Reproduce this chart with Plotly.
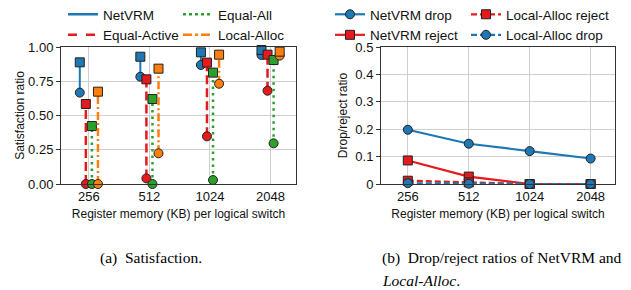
import plotly.graph_objects as go

# ---------------- data ----------------
categories = ["256", "512", "1024", "2048"]

# (a) satisfaction: square = upper marker, circle = lower marker
netvrm_sq = [0.888, 0.929, 0.961, 0.978]
netvrm_ci = [0.667, 0.783, 0.869, 0.942]
eqact_sq = [0.584, 0.764, 0.886, 0.944]
eqact_ci = [0.0, 0.041, 0.348, 0.681]
eqall_sq = [0.423, 0.620, 0.813, 0.905]
eqall_ci = [0.0, 0.0, 0.029, 0.297]
local_sq = [0.674, 0.842, 0.944, 0.966]
local_ci = [0.0, 0.224, 0.732, 0.937]

# (b) drop / reject ratios
netvrm_drop = [0.198, 0.147, 0.120, 0.093]
netvrm_reject = [0.086, 0.027, 0.0, 0.0]
local_reject = [0.012, 0.006, 0.0, 0.0]
local_drop = [0.003, 0.001, 0.0, 0.0]

# ---------------- style ----------------
# the page body has an 8 px margin, so the figure is drawn 8 px in from the window corner
OFF = 8
W, H = 631 - OFF, 290 - OFF
BLUE, RED, GREEN, ORANGE = "#1f77b4", "#e41a1c", "#2ca02c", "#ff7f0e"
EDGE = "#222222"
FONT = "Liberation Sans"
SERIF = "Liberation Serif"
FS_TICK = 13
FS_TITLE = 12
FS_LEG = 13.5
FS_CAP = 15.5


def px_x(p):  # window pixel -> paper fraction
    return (p - OFF) / W


def px_y(p):
    return 1 - (p - OFF) / H


idx = list(range(len(categories)))

fig = go.Figure()

left_series = [
    ("NetVRM", netvrm_sq, netvrm_ci, BLUE, "solid", -0.15, 2.0),
    ("Equal-Active", eqact_sq, eqact_ci, RED, "9px,4px", -0.05, 2.5),
    ("Equal-All", eqall_sq, eqall_ci, GREEN, "2.5px,4px", 0.05, 2.5),
    ("Local-Alloc", local_sq, local_ci, ORANGE, "8px,3px,2px,3px", 0.15, 2.5),
]

for name, sq, ci, col, dash, off, lw in left_series:
    xs, ys = [], []
    for i, a, b in zip(idx, ci, sq):
        xs += [i + off, i + off, None]
        ys += [a, b, None]
    fig.add_trace(go.Scatter(x=xs, y=ys, mode="lines", line=dict(color=col, width=lw, dash=dash),
                             showlegend=False, xaxis="x", yaxis="y", cliponaxis=False, hoverinfo="skip"))
    fig.add_trace(go.Scatter(x=[i + off for i in idx], y=ci, mode="markers",
                             marker=dict(symbol="circle", size=9, color=col, line=dict(color=EDGE, width=1)),
                             showlegend=False, xaxis="x", yaxis="y", cliponaxis=False))
    fig.add_trace(go.Scatter(x=[i + off for i in idx], y=sq, mode="markers",
                             marker=dict(symbol="square", size=9, color=col, line=dict(color=EDGE, width=1)),
                             showlegend=False, xaxis="x", yaxis="y", cliponaxis=False))

# legend-only entries for (a): one vertical legend per column
leg_a = [("NetVRM", BLUE, "solid", "legend"), ("Equal-Active", RED, "dash", "legend"),
         ("Equal-All", GREEN, "dot", "legend2"), ("Local-Alloc", ORANGE, "dashdot", "legend2")]
for name, col, dash, lg in leg_a:
    fig.add_trace(go.Scatter(x=[None], y=[None], mode="lines", name=name,
                             line=dict(color=col, width=2.5, dash=dash), legend=lg,
                             xaxis="x", yaxis="y"))

# (b)
right_series = [
    ("NetVRM drop", netvrm_drop, BLUE, "solid", "circle", "legend3", 1),
    ("NetVRM reject", netvrm_reject, RED, "solid", "square", "legend3", 2),
    ("Local-Alloc reject", local_reject, RED, "6px,3px", "square", "legend4", 1),
    ("Local-Alloc drop", local_drop, BLUE, "6px,3px", "circle", "legend4", 2),
]
for name, vals, col, dash, sym, lg, rank in right_series:
    fig.add_trace(go.Scatter(x=idx, y=vals, mode="lines+markers", name=name,
                             line=dict(color=col, width=2.2, dash=dash),
                             marker=dict(symbol=sym, size=9, color=col, line=dict(color=EDGE, width=1)),
                             legend=lg, legendrank=rank, xaxis="x2", yaxis="y2", cliponaxis=False))

# ---------------- layout ----------------
ydom = [px_y(184), px_y(47)]
axis_common = dict(showline=True, linecolor="#333333", linewidth=1, mirror=True, automargin=False,
                   showgrid=True, gridcolor="#cfcfcf", gridwidth=1.2, zeroline=False,
                   tickfont=dict(family=FONT, size=FS_TICK, color="#111111"))

fig.update_layout(
    width=W, height=H,
    margin=dict(l=0, r=0, t=0, b=0, autoexpand=False),
    paper_bgcolor="white", plot_bgcolor="white",
    font=dict(family=FONT, size=FS_TICK, color="#111111"),
    xaxis=dict(domain=[px_x(61), px_x(296)], range=[-0.46, 3.42],
               tickvals=idx, ticktext=categories, ticks="",
               title=dict(text="Register memory (KB) per logical switch", font=dict(size=FS_TITLE), standoff=7),
               anchor="y", **axis_common),
    yaxis=dict(domain=ydom, range=[0, 1], tickvals=[0, 0.25, 0.5, 0.75, 1.0],
               ticktext=["0.00", "0.25", "0.50", "0.75", "1.00"], ticks="outside", ticklen=4,
               tickcolor="#333333",
               title=dict(text="Satisfaction ratio", font=dict(size=FS_TITLE), standoff=0),
               anchor="x", **axis_common),
    xaxis2=dict(domain=[px_x(381), px_x(615)], range=[-0.44, 3.40],
                tickvals=idx, ticktext=categories, ticks="",
                title=dict(text="Register memory (KB) per logical switch", font=dict(size=FS_TITLE), standoff=7),
                anchor="y2", **axis_common),
    yaxis2=dict(domain=ydom, range=[0, 0.5], tickvals=[0, 0.1, 0.2, 0.3, 0.4, 0.5],
                ticktext=["0", "0.1", "0.2", "0.3", "0.4", "0.5"], ticks="outside", ticklen=4,
                tickcolor="#333333",
                title=dict(text="Drop/reject ratio", font=dict(size=FS_TITLE), standoff=5),
                anchor="x2", **axis_common),
)

leg_common = dict(orientation="v", xanchor="left", yanchor="top", bgcolor="rgba(0,0,0,0)",
                  font=dict(family=FONT, size=FS_LEG, color="#111111"), itemwidth=30,
                  traceorder="normal", tracegroupgap=0)
LEG_TOP = -1
fig.update_layout(
    legend=dict(x=px_x(63), y=px_y(LEG_TOP), **leg_common),
    legend2=dict(x=px_x(178), y=px_y(LEG_TOP), **leg_common),
    legend3=dict(x=px_x(330), y=px_y(LEG_TOP), **leg_common),
    legend4=dict(x=px_x(466), y=px_y(LEG_TOP), **leg_common),
)

# captions
fig.add_annotation(text="(a)\u00a0\u00a0Satisfaction.", x=px_x(151), y=px_y(258), xref="paper", yref="paper",
                   showarrow=False, xanchor="center", yanchor="middle",
                   font=dict(family=SERIF, size=FS_CAP, color="#000000"))
fig.add_annotation(text="(b)\u00a0\u00a0Drop/reject ratios of NetVRM and", x=px_x(380), y=px_y(258),
                   xref="paper", yref="paper", showarrow=False, xanchor="left", yanchor="middle",
                   font=dict(family=SERIF, size=FS_CAP, color="#000000"))
fig.add_annotation(text="<i>Local-Alloc</i>.", x=px_x(380), y=px_y(280),
                   xref="paper", yref="paper", showarrow=False, xanchor="left", yanchor="middle",
                   font=dict(family=SERIF, size=FS_CAP, color="#000000"))

fig.write_html("out.html")
